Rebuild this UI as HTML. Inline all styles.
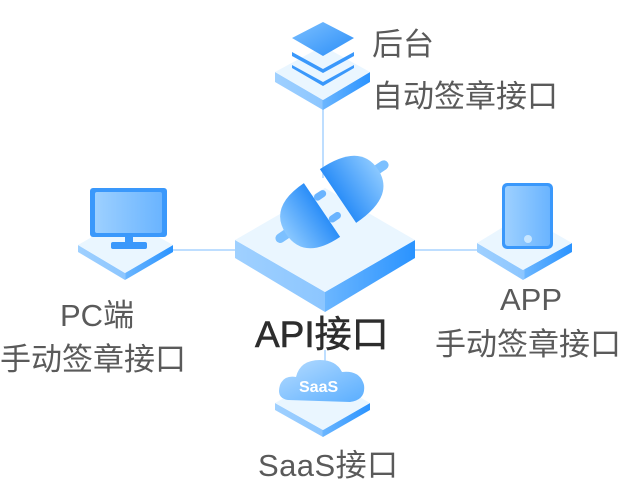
<!DOCTYPE html>
<html><head><meta charset="utf-8"><style>
html,body{margin:0;padding:0;background:#fff;width:626px;height:488px;overflow:hidden}
svg{display:block}
.t{font-family:"Liberation Sans","Noto Sans CJK SC",sans-serif;fill:#5a5a5a;font-size:31px}
</style></head><body>
<svg width="626" height="488" viewBox="0 0 626 488">
<defs>
<linearGradient id="side" x1="0" y1="0" x2="1" y2="0"><stop offset="0" stop-color="#9fd0ff"/><stop offset="0.5" stop-color="#8cc6ff"/><stop offset="0.5" stop-color="#6bb6ff"/><stop offset="1" stop-color="#2a93ff"/></linearGradient>
<linearGradient id="blue" x1="0" y1="0" x2="1" y2="1"><stop offset="0" stop-color="#7cc0ff"/><stop offset="1" stop-color="#2b8ef8"/></linearGradient>
<linearGradient id="pl" x1="0" y1="0" x2="1" y2="0"><stop offset="0" stop-color="#8ac8ff"/><stop offset="1" stop-color="#2b8ef8"/></linearGradient>
<linearGradient id="pr" x1="1" y1="0" x2="0" y2="0"><stop offset="0" stop-color="#8ac8ff"/><stop offset="1" stop-color="#2b8ef8"/></linearGradient>
<linearGradient id="scr" x1="0" y1="0" x2="1" y2="0"><stop offset="0" stop-color="#9dd0ff"/><stop offset="1" stop-color="#6ab4ff"/></linearGradient>
<linearGradient id="cloud" x1="0" y1="0" x2="1" y2="1"><stop offset="0" stop-color="#b6dcff"/><stop offset="1" stop-color="#5aaeff"/></linearGradient>
</defs>
<line x1="323" y1="108" x2="323" y2="178" stroke="#a9d3ff" stroke-width="1.5"/>
<line x1="170" y1="250" x2="237" y2="250" stroke="#a9d3ff" stroke-width="1.5"/>
<line x1="413" y1="250" x2="480" y2="250" stroke="#a9d3ff" stroke-width="1.5"/>
<line x1="325" y1="350" x2="325" y2="362" stroke="#a9d3ff" stroke-width="1.5"/>

<polygon points="275,72 323,100 370,72 370,82 323,110 275,82" fill="url(#side)"/>
<polygon points="275,72 323,46 370,72 323,100" fill="#eaf6ff"/>
<polygon points="292,65 323,82 354,65 354,68 323,86 292,68" fill="#3a98fb"/>
<polygon points="292,52 323,69 354,52 354,56 323,73 292,56" fill="#3a98fb"/>
<polygon points="292,38 323,22 354,38 323,56" fill="url(#blue)"/>

<polygon points="235,240 325,292 415,240 415,258 325,312 235,258" fill="url(#side)"/>
<polygon points="235,240 325,188 415,240 325,292" fill="#eaf6ff"/>
<g transform="translate(322,210) rotate(-34) scale(1.2)">
<rect x="-46" y="-4" width="14" height="8" rx="4" fill="#7cc0ff"/>
<rect x="0" y="-14" width="11" height="6" rx="3" fill="#6ab4ff"/>
<rect x="0" y="8" width="11" height="6" rx="3" fill="#6ab4ff"/>
<path d="M0 -27 L0 27 Q-36 27 -36 0 Q-36 -27 0 -27 Z" fill="url(#pl)"/>
</g>
<g transform="translate(338,196) rotate(-34) scale(1.2)">
<rect x="34" y="-4" width="16" height="8" rx="4" fill="#7cc0ff"/>
<path d="M0 -27 L0 27 Q40 27 40 0 Q40 -27 0 -27 Z" fill="url(#pr)"/>
</g>

<polygon points="78,245 125,273 173,245 173,252 125,280 78,252" fill="url(#side)"/>
<polygon points="78,245 125,218 173,245 125,273" fill="#eaf6ff"/>
<rect x="90" y="188" width="77" height="49" rx="3" fill="#3a98fb"/>
<rect x="95" y="192" width="67" height="41" rx="2" fill="url(#scr)"/>
<rect x="125" y="237" width="8" height="6" fill="#3a98fb"/>
<rect x="111" y="242" width="36" height="7" rx="2" fill="#3a98fb"/>

<polygon points="477,243 523,270 572,243 572,252 523,280 477,252" fill="url(#side)"/>
<polygon points="477,243 523,215 572,243 523,270" fill="#eaf6ff"/>
<rect x="502" y="183" width="51" height="66" rx="5" fill="#3a98fb"/>
<rect x="505" y="186" width="45" height="60" rx="3" fill="url(#scr)"/>
<circle cx="528" cy="239" r="4" fill="#c8e6ff"/>

<polygon points="275,403 323,430 370,403 370,410 323,437 275,410" fill="url(#side)"/>
<polygon points="275,403 323,376 370,403 323,430" fill="#eaf6ff"/>
<path d="M288 400 Q276 398 280 385 Q284 375 296 377 Q300 360 320 360 Q336 360 342 372 Q360 370 364 385 Q366 400 350 402 Z" fill="url(#cloud)"/>
<text x="299" y="392" font-family="Liberation Sans,sans-serif" font-weight="bold" font-size="16" fill="#fff">SaaS</text>

<text class="t" x="372" y="55">后台</text>
<text class="t" x="372" y="107">自动签章接口</text>
<text class="t" x="60" y="326">PC端</text>
<text class="t" x="0" y="370">手动签章接口</text>
<text class="t" x="500" y="310">APP</text>
<text class="t" x="435" y="355">手动签章接口</text>
<text x="255" y="347" font-family="Liberation Sans,'Noto Sans CJK SC',sans-serif" font-size="37" fill="#2d2d2d" stroke="#2d2d2d" stroke-width="0.6">API接口</text>
<text class="t" x="258" y="476" textLength="140">SaaS接口</text>
</svg>
</body></html>
